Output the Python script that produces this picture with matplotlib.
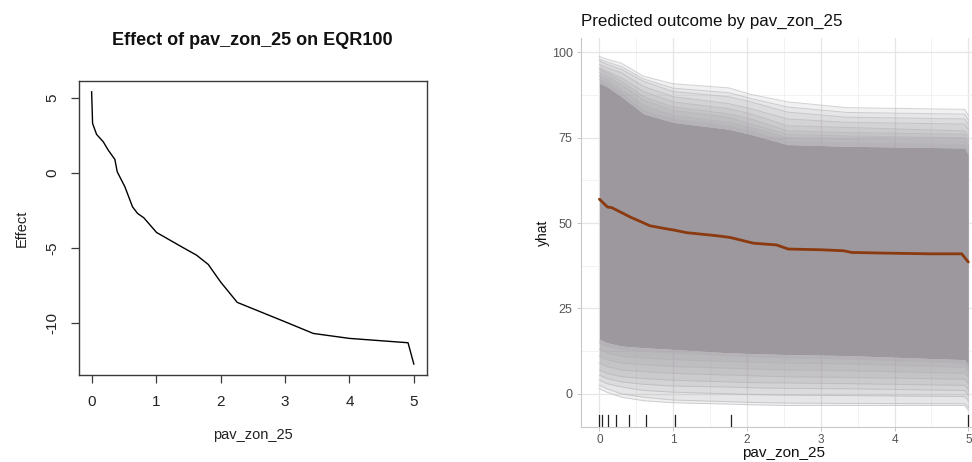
import matplotlib
matplotlib.use("Agg")
import matplotlib.pyplot as plt
import matplotlib.transforms as mtransforms
from matplotlib.ticker import MultipleLocator

plt.rcParams['font.family'] = ['Liberation Sans', 'DejaVu Sans']

# ---- partial dependence of EQR100 on pav_zon_25 (left panel) ----
pd_x = [0.0, 0.015, 0.077, 0.18, 0.258, 0.361, 0.397, 0.516, 0.635, 0.713,
        0.81, 1.008, 1.395, 1.628, 1.81, 2.0, 2.26, 3.0, 3.44, 4.0, 4.91, 5.0]
pd_effect = [5.4, 3.29, 2.56, 2.07, 1.51, 0.89, 0.07, -0.93, -2.27, -2.71,
             -3.0, -3.98, -4.93, -5.49, -6.11, -7.27, -8.64, -9.93, -10.71,
             -11.04, -11.33, -12.75]

# ---- individual conditional expectation curves (right panel) ----
ice_x = [0.0, 0.1, 0.3, 0.6, 1.0, 1.75, 2.05, 2.55, 3.35, 4.95, 5.0]

ice_upper = [
    [98.8, 98.0, 96.8, 93.0, 90.8, 89.6, 87.7, 85.5, 83.8, 83.3, 81.5],
    [98.0, 97.2, 95.8, 92.2, 89.5, 88.2, 86.5, 84.0, 82.4, 81.9, 80.2],
    [97.5, 96.5, 95.0, 91.5, 88.5, 87.0, 85.5, 82.5, 81.0, 80.5, 79.0],
    [96.5, 95.5, 94.0, 90.0, 87.0, 85.0, 83.5, 80.5, 79.5, 79.0, 77.5],
    [95.5, 94.5, 92.5, 88.5, 85.5, 83.5, 82.0, 78.5, 78.0, 77.0, 75.5],
    [95.0, 94.0, 91.5, 87.0, 84.0, 82.0, 80.5, 77.0, 76.5, 76.0, 74.0],
    [94.0, 93.0, 90.5, 86.0, 83.0, 81.0, 79.0, 76.0, 75.5, 75.0, 73.0],
    [93.0, 92.0, 89.0, 84.5, 81.5, 79.5, 78.0, 75.0, 74.5, 74.0, 72.0],
    [92.0, 91.0, 88.0, 83.0, 80.5, 78.5, 77.0, 74.0, 73.5, 73.0, 71.0],
]
ice_core_top = [91.0, 90.0, 87.0, 82.0, 79.5, 77.5, 76.0, 73.0, 72.5, 72.0, 70.0]
ice_core_bottom = [16.0, 15.0, 14.0, 13.5, 13.0, 12.0, 11.8, 11.5, 11.2, 10.0, 8.5]
ice_lower = [
    [15.0, 14.0, 13.0, 12.5, 12.0, 11.2, 11.0, 10.5, 10.3, 9.0, 7.5],
    [13.0, 12.0, 11.0, 10.5, 10.0, 9.5, 9.3, 9.0, 8.8, 7.8, 6.5],
    [11.0, 10.0, 9.0, 8.5, 8.0, 7.5, 7.3, 7.0, 6.8, 6.0, 5.0],
    [9.0, 8.0, 7.0, 6.5, 6.0, 5.5, 5.3, 5.0, 4.8, 4.3, 3.0],
    [7.0, 6.0, 5.0, 4.5, 4.0, 3.5, 3.3, 3.2, 3.0, 2.5, 1.2],
    [5.5, 4.5, 3.5, 2.8, 2.3, 2.0, 1.8, 1.6, 1.5, 1.0, -0.5],
    [4.0, 3.0, 2.0, 1.0, 0.5, 0.0, -0.2, -0.4, -0.5, -0.8, -2.0],
    [2.5, 1.5, 0.0, -1.0, -1.8, -2.3, -2.5, -2.7, -2.8, -2.9, -4.0],
    [1.5, 0.5, -1.0, -2.0, -2.6, -3.0, -3.2, -3.4, -3.4, -3.4, -4.8],
]

# average prediction (partial dependence) line
pdp_x = [0.0, 0.11, 0.17, 0.416, 0.687, 0.913, 1.0, 1.18, 1.59, 1.77, 2.09,
         2.40, 2.56, 2.99, 3.31, 3.42, 3.89, 4.48, 4.91, 5.0]
pdp_yhat = [57.0, 54.7, 54.5, 51.8, 49.2, 48.3, 48.0, 47.2, 46.3, 45.8, 44.1,
            43.6, 42.4, 42.2, 41.9, 41.4, 41.2, 41.0, 41.0, 38.6]

# observed pav_zon_25 values shown as a rug
rug_x = [0.0, 0.03, 0.11, 0.23, 0.40, 0.63, 1.03, 1.79, 5.0]

ICE_GREY = '#9c989e'
PDP_BROWN = '#8b3a10'

fig = plt.figure(figsize=(9.72, 4.62), dpi=100)

# ---------------- left panel: base-graphics style ----------------
axl = fig.add_axes([0.081, 0.188, 0.358, 0.637])
axl.plot(pd_x, pd_effect, color='black', lw=1.0)
axl.set_xlim(-0.2, 5.2)
axl.set_ylim(-13.49, 6.13)
axl.set_xticks([0, 1, 2, 3, 4, 5])
axl.set_yticks([5, 0, -5, -10])
axl.set_yticklabels(['5', '0', '-5', '-10'], rotation=90, va='center')
for s in axl.spines.values():
    s.set_color('#3a3a3a')
    s.set_linewidth(1.0)
axl.tick_params(direction='out', length=6, width=0.9, color='#3a3a3a',
                labelsize=11, labelcolor='#222222', pad=8)
axl.set_title('Effect of pav_zon_25 on EQR100', fontsize=13,
              fontweight='bold', pad=26, color='#111111')
axl.set_xlabel('pav_zon_25', fontsize=10.5, labelpad=14, color='#222222')
axl.set_ylabel('Effect', fontsize=10.5, labelpad=12, color='#222222')

# ---------------- right panel: ICE plot, minimal theme ----------------
axr = fig.add_axes([0.5977, 0.0758, 0.4175, 0.842])
axr.set_xlim(-0.25, 5.25)
axr.set_ylim(-9.7, 104.2)
axr.xaxis.set_major_locator(MultipleLocator(1))
axr.xaxis.set_minor_locator(MultipleLocator(0.5))
axr.yaxis.set_major_locator(MultipleLocator(25))
axr.yaxis.set_minor_locator(MultipleLocator(12.5))
axr.grid(which='major', color='#e6e6e6', lw=0.9)
axr.grid(which='minor', color='#f0f0f0', lw=0.6)
axr.set_axisbelow(True)

# sparse curves above and below the dense core
for curve in ice_upper:
    axr.fill_between(ice_x, curve, ice_core_top, color=ICE_GREY, alpha=0.13, lw=0)
for curve in ice_lower:
    axr.fill_between(ice_x, ice_core_bottom, curve, color=ICE_GREY, alpha=0.13, lw=0)
for curve in ice_upper + ice_lower:
    axr.plot(ice_x, curve, color='#b5b2b7', alpha=0.6, lw=0.7)
# dense core where curves overlap completely
axr.fill_between(ice_x, ice_core_bottom, ice_core_top, color=ICE_GREY, lw=0)

axr.plot(pdp_x, pdp_yhat, color=PDP_BROWN, lw=2.0, solid_capstyle='round')

rug_tf = mtransforms.blended_transform_factory(axr.transData, axr.transAxes)
for xv in rug_x:
    axr.plot([xv, xv], [0.0, 0.03], color='#222222', lw=0.9, transform=rug_tf)

for side in ('top', 'right'):
    axr.spines[side].set_visible(False)
for side in ('left', 'bottom'):
    axr.spines[side].set_color('#c8c8c8')
    axr.spines[side].set_linewidth(0.8)
axr.tick_params(axis='y', which='major', length=3, width=0.6, color='#bdbdbd',
                labelsize=9, labelcolor='#555555', pad=3)
axr.tick_params(axis='x', which='major', length=3, width=0.6, color='#bdbdbd',
                labelsize=8.5, labelcolor='#555555', pad=2)
axr.tick_params(which='minor', length=0)
axr.set_title('Predicted outcome by pav_zon_25', loc='left', fontsize=12.2,
              color='#111111', pad=9)
axr.set_xlabel('pav_zon_25', fontsize=11, color='#111111', labelpad=0)
axr.set_ylabel('yhat', fontsize=10, color='#111111', labelpad=1)

fig.savefig('out.png', dpi=100, facecolor='white')
